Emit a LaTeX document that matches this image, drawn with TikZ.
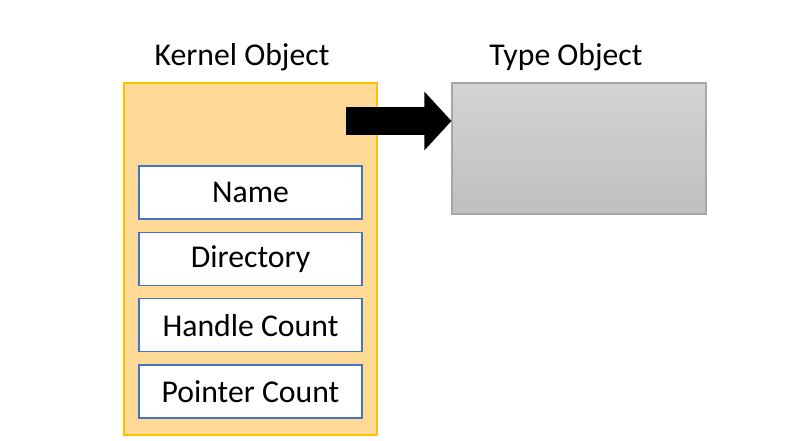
\documentclass[tikz,border=0pt]{standalone}
\usepackage{fontspec}
\setmainfont{Carlito}
\usetikzlibrary{arrows.meta,positioning}
\definecolor{KernFill}{HTML}{FFDA96}
\definecolor{KernLine}{HTML}{FFC000}
\definecolor{FieldLine}{HTML}{4472C4}
\definecolor{TypeLine}{HTML}{A6A6A6}

\begin{document}
\begin{tikzpicture}[x=0.75pt,y=-0.75pt,font=\fontsize{23.8}{28}\selectfont,
  kern/.style={draw=KernLine,line width=0.8pt,fill=KernFill,minimum width=189.75pt,minimum height=264pt,inner sep=0pt},
  field/.style={draw=FieldLine,line width=1.1pt,fill=white,minimum width=167.25pt,minimum height=39.75pt,inner sep=0pt,outer sep=0pt},
  typebox/.style={draw=TypeLine,line width=0.8pt,top color=black!17,bottom color=black!25,minimum width=190.5pt,minimum height=98.25pt,inner sep=0pt},
  title/.style={inner sep=0pt}]
  \useasboundingbox (0,0) rectangle (803,441);
  \node[kern] (kern) at (250.5,259) {};
  \node[typebox] (type) at (579,148.5) {};
  \node[title] at (242,57) {Kernel Object};
  \node[title] at (566,57) {Type Object};
  \node[field] (name) at (250.5,192.5) {Name};
  \node[field,below=10pt of name] (dir) {Directory};
  \node[field,below=10pt of dir] (handle) {Handle Count};
  \node[field,below=10pt of handle] (ptr) {Pointer Count};
  \coordinate (from) at (346,121);
  \draw[line width=21pt,-{Triangle[length=20.25pt,width=42.75pt]}] (from) -- (from -| type.west);
\end{tikzpicture}
\end{document}
